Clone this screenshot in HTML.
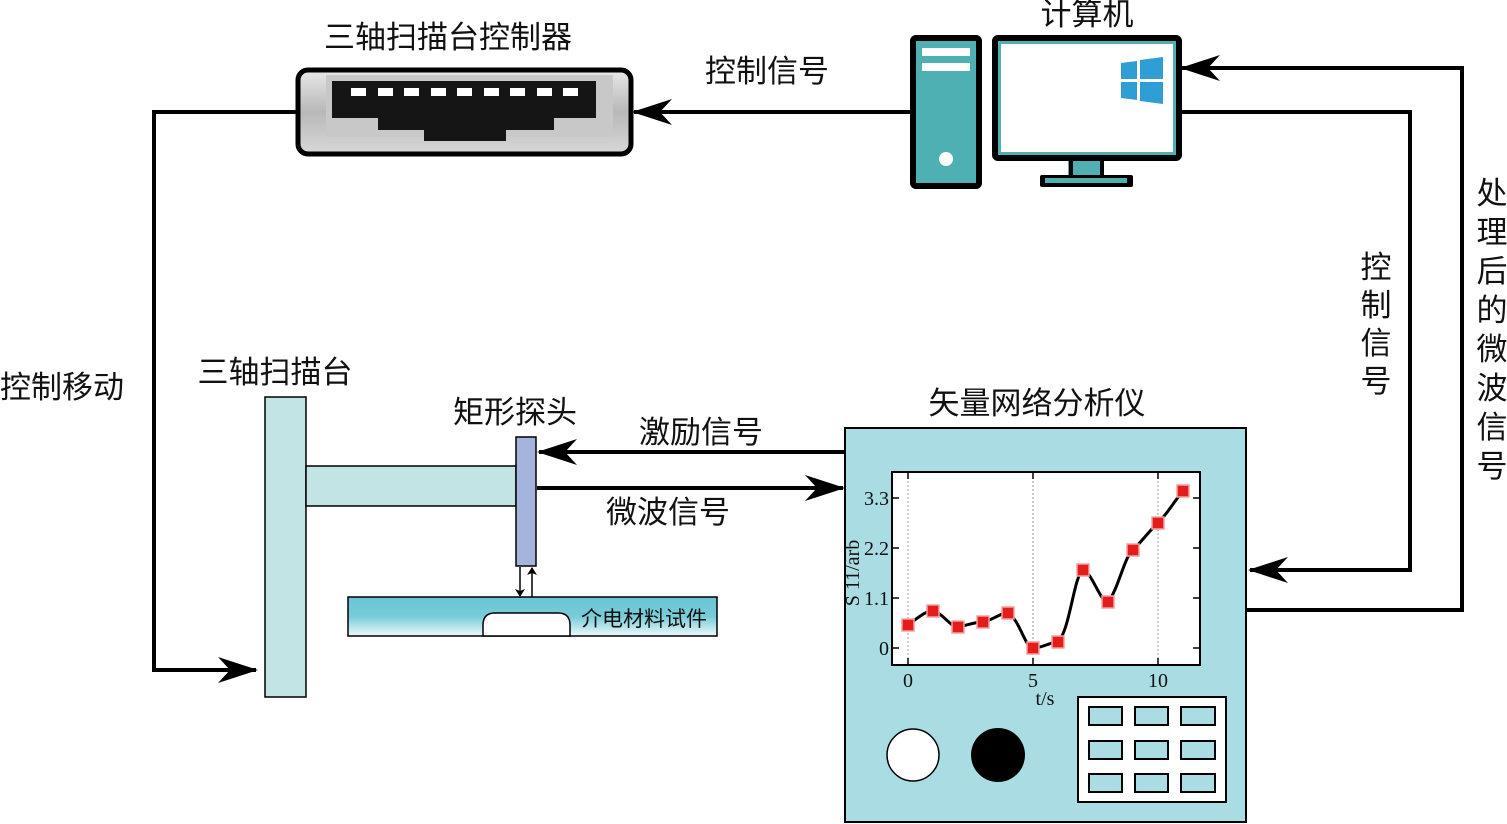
<!DOCTYPE html>
<html><head><meta charset="utf-8"><style>
html,body{margin:0;padding:0;background:#fff}
svg{display:block}
text{font-family:"Liberation Serif","Noto Serif CJK SC","Noto Sans CJK SC",serif;fill:#111}
.cn{font-family:"Liberation Sans","Noto Sans CJK SC",sans-serif}
</style></head><body>
<svg width="1507" height="824" viewBox="0 0 1507 824" xmlns="http://www.w3.org/2000/svg">
<defs>
<linearGradient id="metal" x1="0" y1="0" x2="0" y2="1">
<stop offset="0" stop-color="#e8e8e8"/><stop offset="0.5" stop-color="#b8b8b8"/><stop offset="1" stop-color="#d8d8d8"/>
</linearGradient>
<linearGradient id="samp" x1="0" y1="0" x2="0" y2="1">
<stop offset="0" stop-color="#6ac4d4"/><stop offset="0.5" stop-color="#78ccd8"/><stop offset="1" stop-color="#eef8fa"/>
</linearGradient>
<marker id="ah" viewBox="0 0 40 26" refX="38" refY="13" markerWidth="40" markerHeight="26" markerUnits="userSpaceOnUse" orient="auto">
<path d="M0,0 L40,13 L0,26 L12,13 Z" fill="#000"/>
</marker>
<marker id="sa" viewBox="0 0 8 10" refX="7" refY="5" markerWidth="8" markerHeight="10" markerUnits="userSpaceOnUse" orient="auto">
<path d="M0,0 L8,5 L0,10 L2,5 Z" fill="#000"/>
</marker>
</defs>

<g stroke="#000" stroke-width="4" fill="none">
<polyline points="297,112 154,112 154,670 256,670" marker-end="url(#ah)"/>
<line x1="910" y1="112" x2="634" y2="112" marker-end="url(#ah)"/>
<polyline points="1180,112 1410,112 1410,570 1250,570" marker-end="url(#ah)"/>
<polyline points="1246,610 1462,610 1462,68 1182,68" marker-end="url(#ah)"/>
<line x1="845" y1="452" x2="539" y2="452" marker-end="url(#ah)"/>
<line x1="537" y1="488" x2="843" y2="488" marker-end="url(#ah)"/>
</g>

<rect x="298" y="70" width="333" height="84" rx="10" fill="url(#metal)" stroke="#000" stroke-width="5"/>
<rect x="326" y="75" width="287" height="62" fill="#c8c8c8"/>
<path d="M332,81 L596,81 L596,118 L554,118 L554,130 L506,130 L506,141 L424,141 L424,130 L378,130 L378,118 L332,118 Z" fill="#151515"/>
<g fill="#fff">
<rect x="351" y="88" width="15" height="8"/><rect x="378" y="88" width="15" height="8"/><rect x="404" y="88" width="15" height="8"/><rect x="431" y="88" width="15" height="8"/><rect x="457" y="88" width="15" height="8"/><rect x="484" y="88" width="15" height="8"/><rect x="510" y="88" width="15" height="8"/><rect x="537" y="88" width="15" height="8"/><rect x="563" y="88" width="15" height="8"/>
</g>

<rect x="913" y="38" width="66" height="148" rx="3" fill="#4fb0b4" stroke="#000" stroke-width="6"/>
<rect x="922" y="48" width="48" height="8" fill="#fff"/>
<rect x="922" y="63" width="48" height="8" fill="#fff"/>
<circle cx="946" cy="159" r="7" fill="#fff"/>
<rect x="1068" y="155" width="36" height="22" fill="#4fb0b4"/>
<rect x="1069" y="155" width="4" height="23" fill="#000"/>
<rect x="1100" y="155" width="4" height="23" fill="#000"/>
<rect x="1040" y="175" width="93" height="12" rx="2" fill="#000"/>
<rect x="1045" y="178" width="82" height="5" fill="#4fb0b4"/>
<rect x="995" y="38" width="184" height="120" rx="3" fill="#4fb0b4" stroke="#000" stroke-width="6"/>
<rect x="1001" y="44" width="172" height="108" fill="#fff"/>
<g fill="#2f9ed4">
<path d="M1121,63 L1137,61 L1137,79 L1121,79 Z"/><path d="M1140,60 L1163,57 L1163,79 L1140,79 Z"/>
<path d="M1121,82 L1137,82 L1137,100 L1121,98 Z"/><path d="M1140,82 L1163,82 L1163,104 L1140,101 Z"/>
</g>

<rect x="265" y="397" width="41" height="300" fill="#c2e4e4" stroke="#000" stroke-width="1.5"/>
<rect x="306" y="466" width="210" height="40" fill="#c2e4e4" stroke="#000" stroke-width="1.5"/>
<rect x="516" y="437" width="20" height="129" fill="#a4b4dc" stroke="#000" stroke-width="1.5"/>
<rect x="348" y="597" width="369" height="39" fill="url(#samp)" stroke="#000" stroke-width="1.5"/>
<path d="M483,636 L483,625 Q483,613 495,613 L558,613 Q570,613 570,625 L570,636 Z" fill="#fff" stroke="#000" stroke-width="1.5"/>
<g stroke="#000" stroke-width="1.5">
<line x1="520" y1="567" x2="520" y2="596" marker-end="url(#sa)"/>
<line x1="532" y1="597" x2="532" y2="568" marker-end="url(#sa)"/>
</g>

<rect x="845" y="428" width="401" height="394" fill="#aadce4" stroke="#000" stroke-width="2"/>
<rect x="892" y="472" width="308" height="193" fill="#fff" stroke="#000" stroke-width="2"/>
<g stroke="#999" stroke-width="1" stroke-dasharray="2,2">
<line x1="908" y1="473" x2="908" y2="664"/><line x1="1033" y1="473" x2="1033" y2="664"/><line x1="1158" y1="473" x2="1158" y2="664"/>
</g>
<g stroke="#000" stroke-width="1.5">
<line x1="892" y1="498" x2="899" y2="498"/><line x1="892" y1="548" x2="899" y2="548"/><line x1="892" y1="598" x2="899" y2="598"/><line x1="892" y1="648" x2="899" y2="648"/>
<line x1="1193" y1="498" x2="1200" y2="498"/><line x1="1193" y1="548" x2="1200" y2="548"/><line x1="1193" y1="598" x2="1200" y2="598"/><line x1="1193" y1="648" x2="1200" y2="648"/>
<line x1="908" y1="665" x2="908" y2="658"/><line x1="1033" y1="665" x2="1033" y2="658"/><line x1="1158" y1="665" x2="1158" y2="658"/>
<line x1="908" y1="472" x2="908" y2="479"/><line x1="1033" y1="472" x2="1033" y2="479"/><line x1="1158" y1="472" x2="1158" y2="479"/>
</g>
<path d="M908,625 C918,618 925,611 933,611 C943,613 950,627 958,627 C968,625 975,622 983,622 C993,620 1000,613 1008,613 C1020,620 1025,648 1033,648 C1043,648 1050,642 1058,642 C1070,630 1074,575 1083,570 C1092,572 1100,602 1108,602 C1118,590 1125,555 1133,550 C1143,540 1150,530 1158,523 C1168,513 1175,500 1183,491" fill="none" stroke="#000" stroke-width="3"/>
<g fill="#e41c1c" stroke="#f4a0a0" stroke-width="1.5">
<rect x="902" y="619" width="12" height="12"/><rect x="927" y="605" width="12" height="12"/><rect x="952" y="621" width="12" height="12"/><rect x="977" y="616" width="12" height="12"/><rect x="1002" y="607" width="12" height="12"/><rect x="1027" y="642" width="12" height="12"/><rect x="1052" y="636" width="12" height="12"/><rect x="1077" y="564" width="12" height="12"/><rect x="1102" y="596" width="12" height="12"/><rect x="1127" y="544" width="12" height="12"/><rect x="1152" y="517" width="12" height="12"/><rect x="1177" y="485" width="12" height="12"/>
</g>
<g font-size="20" text-anchor="end">
<text x="889" y="505">3.3</text><text x="889" y="555">2.2</text><text x="889" y="605">1.1</text><text x="889" y="655">0</text>
</g>
<g font-size="20" text-anchor="middle">
<text x="908" y="687">0</text><text x="1033" y="687">5</text><text x="1158" y="687">10</text>
<text x="1045" y="705">t/s</text>
</g>
<text x="859" y="573" font-size="20" text-anchor="middle" transform="rotate(-90 859 573)">S 11/arb</text>

<circle cx="913" cy="755" r="26" fill="#fff" stroke="#000" stroke-width="1.5"/>
<circle cx="998" cy="755" r="27" fill="#000"/>
<rect x="1078" y="697" width="148" height="105" fill="#fff" stroke="#000" stroke-width="2"/>
<g fill="#aadce4" stroke="#000" stroke-width="2">
<rect x="1089" y="707" width="33" height="18"/><rect x="1135" y="707" width="33" height="18"/><rect x="1181" y="707" width="34" height="18"/>
<rect x="1089" y="741" width="33" height="18"/><rect x="1135" y="741" width="33" height="18"/><rect x="1181" y="741" width="34" height="18"/>
<rect x="1089" y="774" width="33" height="18"/><rect x="1135" y="774" width="33" height="18"/><rect x="1181" y="774" width="34" height="18"/>
</g>

<g class="cn" font-size="31" text-anchor="middle">
<text class="cn" x="448" y="48">三轴扫描台控制器</text>
<text class="cn" x="767" y="82">控制信号</text>
<text class="cn" x="1087" y="25">计算机</text>
<text class="cn" x="62" y="398">控制移动</text>
<text class="cn" x="275" y="383">三轴扫描台</text>
<text class="cn" x="515" y="423">矩形探头</text>
<text class="cn" x="701" y="443">激励信号</text>
<text class="cn" x="668" y="523">微波信号</text>
<text class="cn" x="1037" y="414">矢量网络分析仪</text>
<text class="cn" x="1376" y="278">控</text><text class="cn" x="1376" y="316">制</text><text class="cn" x="1376" y="354">信</text><text class="cn" x="1376" y="392">号</text>
<text class="cn" x="1492" y="204">处</text><text class="cn" x="1492" y="243">理</text><text class="cn" x="1492" y="282">后</text><text class="cn" x="1492" y="321">的</text><text class="cn" x="1492" y="360">微</text><text class="cn" x="1492" y="399">波</text><text class="cn" x="1492" y="438">信</text><text class="cn" x="1492" y="477">号</text>
</g>
<text class="cn" x="644" y="626" font-size="21" text-anchor="middle">介电材料试件</text>
</svg>
</body></html>
